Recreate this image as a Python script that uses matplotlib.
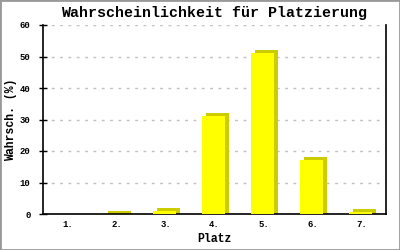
import numpy as np
import matplotlib
matplotlib.use("Agg")
import matplotlib.pyplot as plt
from matplotlib.patches import Rectangle

# Daten
plaetze = ["1.", "2.", "3.", "4.", "5.", "6.", "7."]
werte = [0.0, 0.15, 1.0, 31.0, 51.0, 17.0, 0.7]
y_ticks = [0, 10, 20, 30, 40, 50, 60]

gelb = "#ffff00"
schatten = "#cccc00"
mono = "Liberation Mono"

fig = plt.figure(figsize=(4, 2.5), dpi=100)
ax = fig.add_axes([0.1075, 0.144, 0.8575, 0.756])

x = np.arange(1, len(plaetze) + 1)
w = np.array(werte)
breite = 0.47
dx = 0.08   # 3D-Versatz nach rechts
dy = 0.95   # 3D-Versatz nach oben

# Schatten (3D-Seite) und Vorderseite
hoehe_schatten = np.where(w > 0, w + dy, 0)
ax.bar(x - 0.02 + dx, hoehe_schatten, width=breite, color=schatten, zorder=2)
ax.bar(x - 0.02, w, width=breite, color=gelb, zorder=3)

ax.set_xlim(0.5, 7.5)
ax.set_ylim(0, 60)
ax.set_xticks(x)
ax.set_xticklabels(plaetze, family=mono, fontsize=6.5, fontweight="bold")
ax.set_yticks(y_ticks)
ax.set_yticklabels([str(t) for t in y_ticks], family=mono, fontsize=6.5,
                   fontweight="bold")
ax.tick_params(axis="x", length=0, pad=4)
ax.tick_params(axis="y", direction="inout", length=6, width=1, pad=6)

ax.yaxis.grid(True, color="#c0c0c0", linestyle=(0, (2, 4)), linewidth=1)
ax.set_axisbelow(True)

for s in ["left", "bottom", "right"]:
    ax.spines[s].set_linewidth(1.2)
    ax.spines[s].set_color("black")
ax.spines["top"].set_visible(False)

ax.set_title("Wahrscheinlichkeit für Platzierung", family=mono,
             fontweight="bold", fontsize=10.8, pad=6)
ax.set_xlabel("Platz", family=mono, fontweight="bold", fontsize=8.3, labelpad=3)
ax.set_ylabel("Wahrsch. (%)", family=mono, fontweight="bold", fontsize=8.3)
ax.yaxis.set_label_coords(-0.075, 0.5)

# grauer Rahmen um das Bild
fig.add_artist(Rectangle((0, 0), 1, 1, transform=fig.transFigure, fill=False,
                         edgecolor="#999999", linewidth=2))

fig.savefig("out.png", dpi=100)
